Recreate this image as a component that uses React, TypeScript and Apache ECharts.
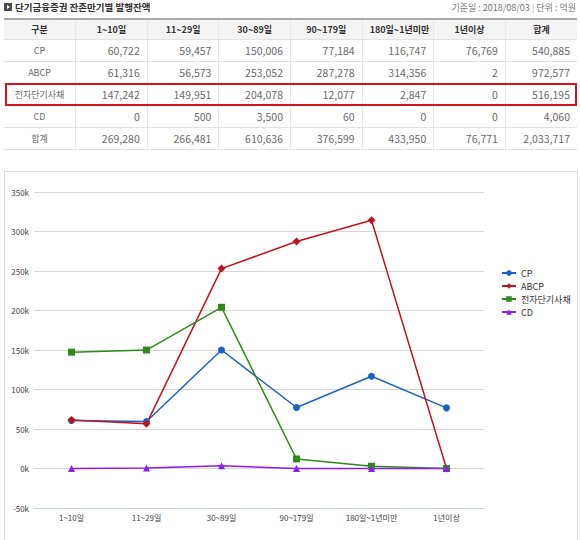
import { useEffect, useRef } from 'react'
import * as echarts from 'echarts'

const categories = ['1~10일', '11~29일', '30~89일', '90~179일', '180일~1년미만', '1년이상']
const headerLabels = ['구분', '1~10일', '11~29일', '30~89일', '90~179일', '180일~1년미만', '1년이상', '합계']
const seriesNames = ['CP', 'ABCP', '전자단기사채', 'CD']
const cpValues = [60722, 59457, 150006, 77184, 116747, 76769]
const abcpValues = [61316, 56573, 253052, 287278, 314356, 2]
const estbValues = [147242, 149951, 204078, 12077, 2847, 0]
const cdValues = [0, 500, 3500, 60, 0, 0]
const rowTotals = [540885, 972577, 516195, 4060]
const columnTotals = [269280, 266481, 610636, 376599, 433950, 76771]
const grandTotal = 2033717
const yMin = -50000
const yMax = 350000
const yInterval = 50000

const seriesColors = ['#1b62c8', '#c0121e', '#2f8a1c', '#8e1cee']
const seriesSymbols = ['circle', 'diamond', 'rect', 'triangle']

const FONT = "'Noto Sans CJK KR', 'Noto Sans', sans-serif"
const NUM_FONT = "'Liberation Sans Narrow', 'Noto Sans CJK KR', sans-serif"

const fmt = (v: number) => v.toLocaleString('en-US')

function SummaryTable() {
  const rows = [cpValues, abcpValues, estbValues, cdValues]
  const cellBase: React.CSSProperties = {
    height: 21,
    padding: '0 7px',
    borderBottom: '1px solid #e2e2e2',
    borderLeft: '1px solid #e8e8e8',
    color: '#6a6a6a',
    fontSize: 9,
    whiteSpace: 'nowrap'
  }
  const numCell: React.CSSProperties = {
    ...cellBase,
    textAlign: 'right',
    fontFamily: NUM_FONT,
    fontSize: 10.5
  }
  const labelCell: React.CSSProperties = { ...cellBase, borderLeft: 'none', textAlign: 'center' }
  return (
    <table
      style={{
        position: 'absolute',
        left: 4,
        top: 18,
        width: 573,
        borderCollapse: 'collapse',
        tableLayout: 'fixed',
        fontFamily: FONT,
        borderTop: '2px solid #a8a8a8'
      }}
    >
      <thead>
        <tr>
          {headerLabels.map((h, i) => (
            <th
              key={h}
              style={{
                ...cellBase,
                height: 19,
                borderLeft: i === 0 ? 'none' : cellBase.borderLeft,
                background: '#f4f4f4',
                color: '#333',
                fontWeight: 700,
                textAlign: 'center'
              }}
            >
              {h}
            </th>
          ))}
        </tr>
      </thead>
      <tbody>
        {rows.map((vals, r) => (
          <tr key={seriesNames[r]}>
            <td style={labelCell}>{seriesNames[r]}</td>
            {vals.map((v, c) => (
              <td key={c} style={numCell}>{fmt(v)}</td>
            ))}
            <td style={numCell}>{fmt(rowTotals[r])}</td>
          </tr>
        ))}
        <tr>
          <td style={labelCell}>합계</td>
          {columnTotals.map((v, c) => (
            <td key={c} style={numCell}>{fmt(v)}</td>
          ))}
          <td style={numCell}>{fmt(grandTotal)}</td>
        </tr>
      </tbody>
    </table>
  )
}

function MaturityChart() {
  const chartRef = useRef<HTMLDivElement>(null)

  useEffect(() => {
    const host = chartRef.current
    if (!host) return
    const chart = echarts.init(host, null, { renderer: 'svg' })
    const values = [cpValues, abcpValues, estbValues, cdValues]

    chart.setOption({
      animation: false,
      textStyle: { fontFamily: FONT },
      grid: { left: 29, top: 20, width: 450, height: 316 },
      legend: {
        orient: 'vertical',
        left: 491,
        top: 91,
        itemWidth: 14,
        itemHeight: 7,
        itemGap: 3,
        textStyle: { fontSize: 9, lineHeight: 10, color: '#333', fontFamily: FONT },
        data: seriesNames
      },
      xAxis: {
        type: 'category',
        data: categories,
        boundaryGap: true,
        axisLine: { onZero: false, lineStyle: { color: '#c8d2dc', width: 1 } },
        axisTick: { alignWithLabel: true, length: 4, lineStyle: { color: '#c8d2dc' } },
        axisLabel: { fontSize: 8, color: '#444', margin: 5, interval: 0 }
      },
      yAxis: {
        type: 'value',
        min: yMin,
        max: yMax,
        interval: yInterval,
        axisLine: { show: false },
        axisTick: { show: false },
        axisLabel: {
          fontSize: 8,
          color: '#444',
          margin: 5,
          formatter: (v: number) => `${v / 1000}k`
        },
        splitLine: { lineStyle: { color: '#d6d6d6', width: 1 } }
      },
      series: seriesNames.map((name, i) => ({
        name,
        type: 'line',
        data: values[i],
        symbol: seriesSymbols[i],
        symbolSize: i === 1 ? 8 : 7,
        showAllSymbol: true,
        lineStyle: { color: seriesColors[i], width: 1.5 },
        itemStyle: { color: seriesColors[i] }
      }))
    })

    return () => {
      chart.dispose()
    }
  }, [])

  return (
    <div
      style={{
        position: 'absolute',
        left: 4,
        top: 171,
        width: 574,
        height: 380,
        border: '1px solid #dcdcdc',
        boxSizing: 'border-box'
      }}
    >
      <div ref={chartRef} style={{ width: 572, height: 378 }} />
    </div>
  )
}

export default function App() {
  return (
    <div
      style={{
        position: 'absolute',
        left: 0,
        top: 0,
        width: 580,
        height: 540,
        overflow: 'hidden',
        background: '#fff',
        fontFamily: FONT
      }}
    >
      <div
        style={{
          position: 'absolute',
          left: 4,
          top: 3,
          width: 8,
          height: 8,
          background: '#4a4a4a',
          boxSizing: 'border-box',
          border: '1px solid #4a4a4a'
        }}
      >
        <div
          style={{
            position: 'absolute',
            left: 2,
            top: 1,
            width: 0,
            height: 0,
            borderTop: '2.5px solid transparent',
            borderBottom: '2.5px solid transparent',
            borderLeft: '3px solid #fff'
          }}
        />
      </div>
      <div
        style={{
          position: 'absolute',
          left: 15,
          top: 0,
          fontSize: 9.5,
          fontWeight: 700,
          color: '#333',
          whiteSpace: 'nowrap'
        }}
      >
        단기금융증권 잔존만기별 발행잔액
      </div>
      <div
        style={{
          position: 'absolute',
          right: 4,
          top: 1,
          fontSize: 9,
          color: '#777',
          whiteSpace: 'nowrap'
        }}
      >
        기준일 : 2018/08/03 <span style={{ color: '#bbb' }}>|</span> 단위 : 억원
      </div>
      <SummaryTable />
      <div
        style={{
          position: 'absolute',
          left: 5,
          top: 83,
          width: 572,
          height: 23,
          border: '2px solid #d4141c',
          boxSizing: 'border-box',
          pointerEvents: 'none'
        }}
      />
      <MaturityChart />
    </div>
  )
}
